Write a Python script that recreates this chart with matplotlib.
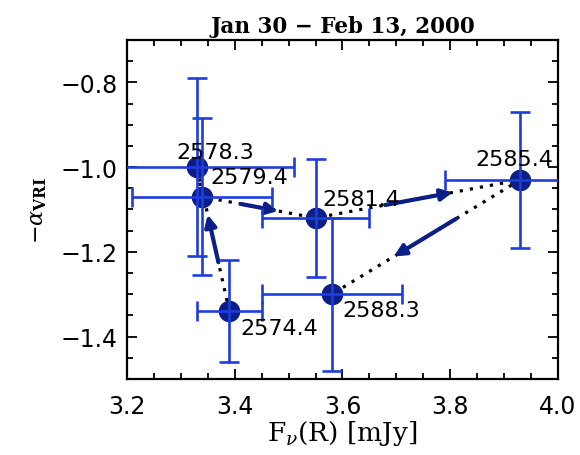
import matplotlib
matplotlib.use("Agg")
import matplotlib.pyplot as plt
from matplotlib.ticker import MultipleLocator

# ---- data ----
labels = ["2574.4", "2578.3", "2579.4", "2581.4", "2585.4", "2588.3"]
flux = [3.39, 3.33, 3.34, 3.55, 3.93, 3.58]
alpha = [-1.34, -1.00, -1.07, -1.12, -1.03, -1.30]
flux_err = [0.06, 0.18, 0.13, 0.10, 0.14, 0.13]
alpha_err = [0.12, 0.21, 0.185, 0.14, 0.16, 0.18]

# label offsets (points) relative to each point
label_dx = [36, 13, 34, 33, -4, 36]
label_dy = [-12, 11, 14, 14, 15, -11]

navy = "#0b1f86"
blue = "#1e3ddc"

plt.rcParams["mathtext.fontset"] = "dejavuserif"

fig = plt.figure(figsize=(5.8, 4.56), dpi=100)
ax = fig.add_axes([0.219, 0.1667, 0.743, 0.7434])

# path in time order
ax.plot(flux, alpha, linestyle=(0, (1, 2.2)), color="black", lw=2.3, zorder=2)

# arrows along each step (skip the very short 2578.3 -> 2579.4 step)
for i in range(len(flux) - 1):
    if i == 1:
        continue
    x0, y0 = flux[i], alpha[i]
    x1, y1 = flux[i + 1], alpha[i + 1]
    f0, f1 = 0.34, 0.67
    ax.annotate("", xy=(x0 + f1 * (x1 - x0), y0 + f1 * (y1 - y0)),
                xytext=(x0 + f0 * (x1 - x0), y0 + f0 * (y1 - y0)),
                arrowprops=dict(arrowstyle="-|>", color=navy, lw=3.0,
                                mutation_scale=17, shrinkA=0, shrinkB=0),
                zorder=3)

ax.plot(flux, alpha, "o", color=navy, markersize=14.5, zorder=4)
ax.errorbar(flux, alpha, xerr=flux_err, yerr=alpha_err, fmt="none",
            ecolor=blue, elinewidth=1.9, capsize=7, capthick=1.9, zorder=5)

for lab, x, y, dx, dy in zip(labels, flux, alpha, label_dx, label_dy):
    ax.annotate(lab, (x, y), xytext=(dx, dy), textcoords="offset points",
                ha="center", va="center", fontsize=16, zorder=6)

ax.set_xlim(3.2, 4.0)
ax.set_ylim(-1.5, -0.7)
ax.xaxis.set_major_locator(MultipleLocator(0.2))
ax.xaxis.set_minor_locator(MultipleLocator(0.05))
ax.yaxis.set_major_locator(MultipleLocator(0.2))
ax.yaxis.set_minor_locator(MultipleLocator(0.05))
ax.xaxis.set_major_formatter(plt.FuncFormatter(lambda v, p: f"{v:.1f}"))
ax.yaxis.set_major_formatter(plt.FuncFormatter(lambda v, p: f"{v:.1f}".replace("-", "\u2212")))
ax.tick_params(which="both", direction="in", top=True, right=True, width=1.3)
ax.tick_params(which="major", length=7, labelsize=17)
ax.tick_params(axis="x", which="major", pad=11)
ax.tick_params(axis="y", which="major", pad=7)
ax.tick_params(which="minor", length=4)
for s in ax.spines.values():
    s.set_linewidth(1.6)

ax.set_title("Jan 30 \u2212 Feb 13, 2000", family="DejaVu Serif",
             fontsize=15.5, fontweight="bold", pad=6)
ax.set_xlabel(r"F$_\nu$(R) [mJy]", family="DejaVu Serif", fontsize=19, labelpad=0)
ax.set_ylabel(r"$-\alpha_{\mathbf{VRI}}$", fontsize=16, labelpad=8)

fig.savefig("out.png", dpi=100)
